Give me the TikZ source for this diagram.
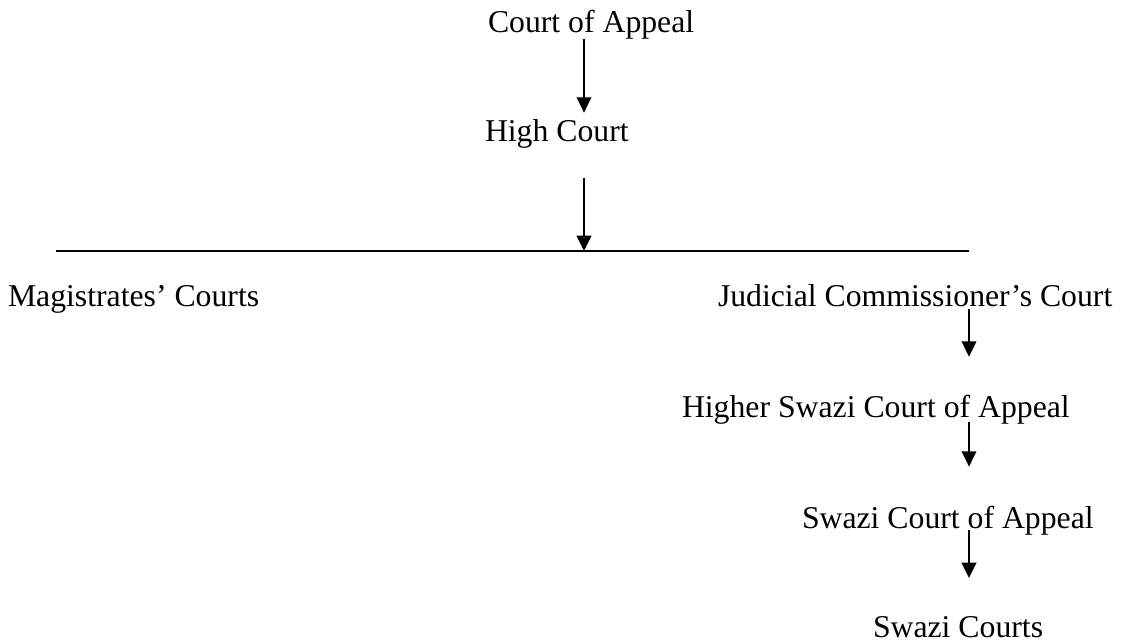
\documentclass[tikz,border=0pt]{standalone}
\usepackage{fontspec}
\setmainfont{Liberation Serif}
\usetikzlibrary{arrows.meta}
\begin{document}
\begin{tikzpicture}[x=0.75pt,y=-0.75pt,
  court/.style={inner sep=0pt,outer sep=0pt,anchor=base west,font=\fontsize{23.8pt}{28pt}\selectfont},
  arr/.style={line width=1.3pt,-{Triangle[width=11pt,length=11.5pt]}},
  rule/.style={line width=1.5pt}]
\useasboundingbox (0,0) rectangle (1122,643);
\node[court] (ca) at (488,32) {Court of Appeal};
\node[court] (hc) at (485,141) {High Court};
\node[court] (mc) at (8,306) {Magistrates’ Courts};
\node[court] (jc) at (718,306) {Judicial Commissioner’s Court};
\node[court] (hs) at (682,417) {Higher Swazi Court of Appeal};
\node[court] (sa) at (802,528) {Swazi Court of Appeal};
\node[court] (sw) at (873,637) {Swazi Courts};
\coordinate (ax) at (584,0);
\coordinate (bx) at (969,0);
\coordinate (L) at (56,251);
\coordinate (R) at (969,251);
\draw[rule] (L) -- (R);
\draw[arr,shorten >=4.8pt] (ca.south -| ax) -- (hc.north -| ax);
\draw[arr,shorten <=22.5pt] (hc.south -| ax) -- (L -| ax);
\draw[arr,shorten <=2.3pt,shorten >=28.5pt] (jc.south -| bx) -- (hs.north -| bx);
\draw[arr,shorten <=-1.5pt,shorten >=29.3pt] (hs.south -| bx) -- (sa.north -| bx);
\draw[arr,shorten <=-3.75pt,shorten >=28.5pt] (sa.south -| bx) -- (sw.north -| bx);
\end{tikzpicture}
\end{document}
